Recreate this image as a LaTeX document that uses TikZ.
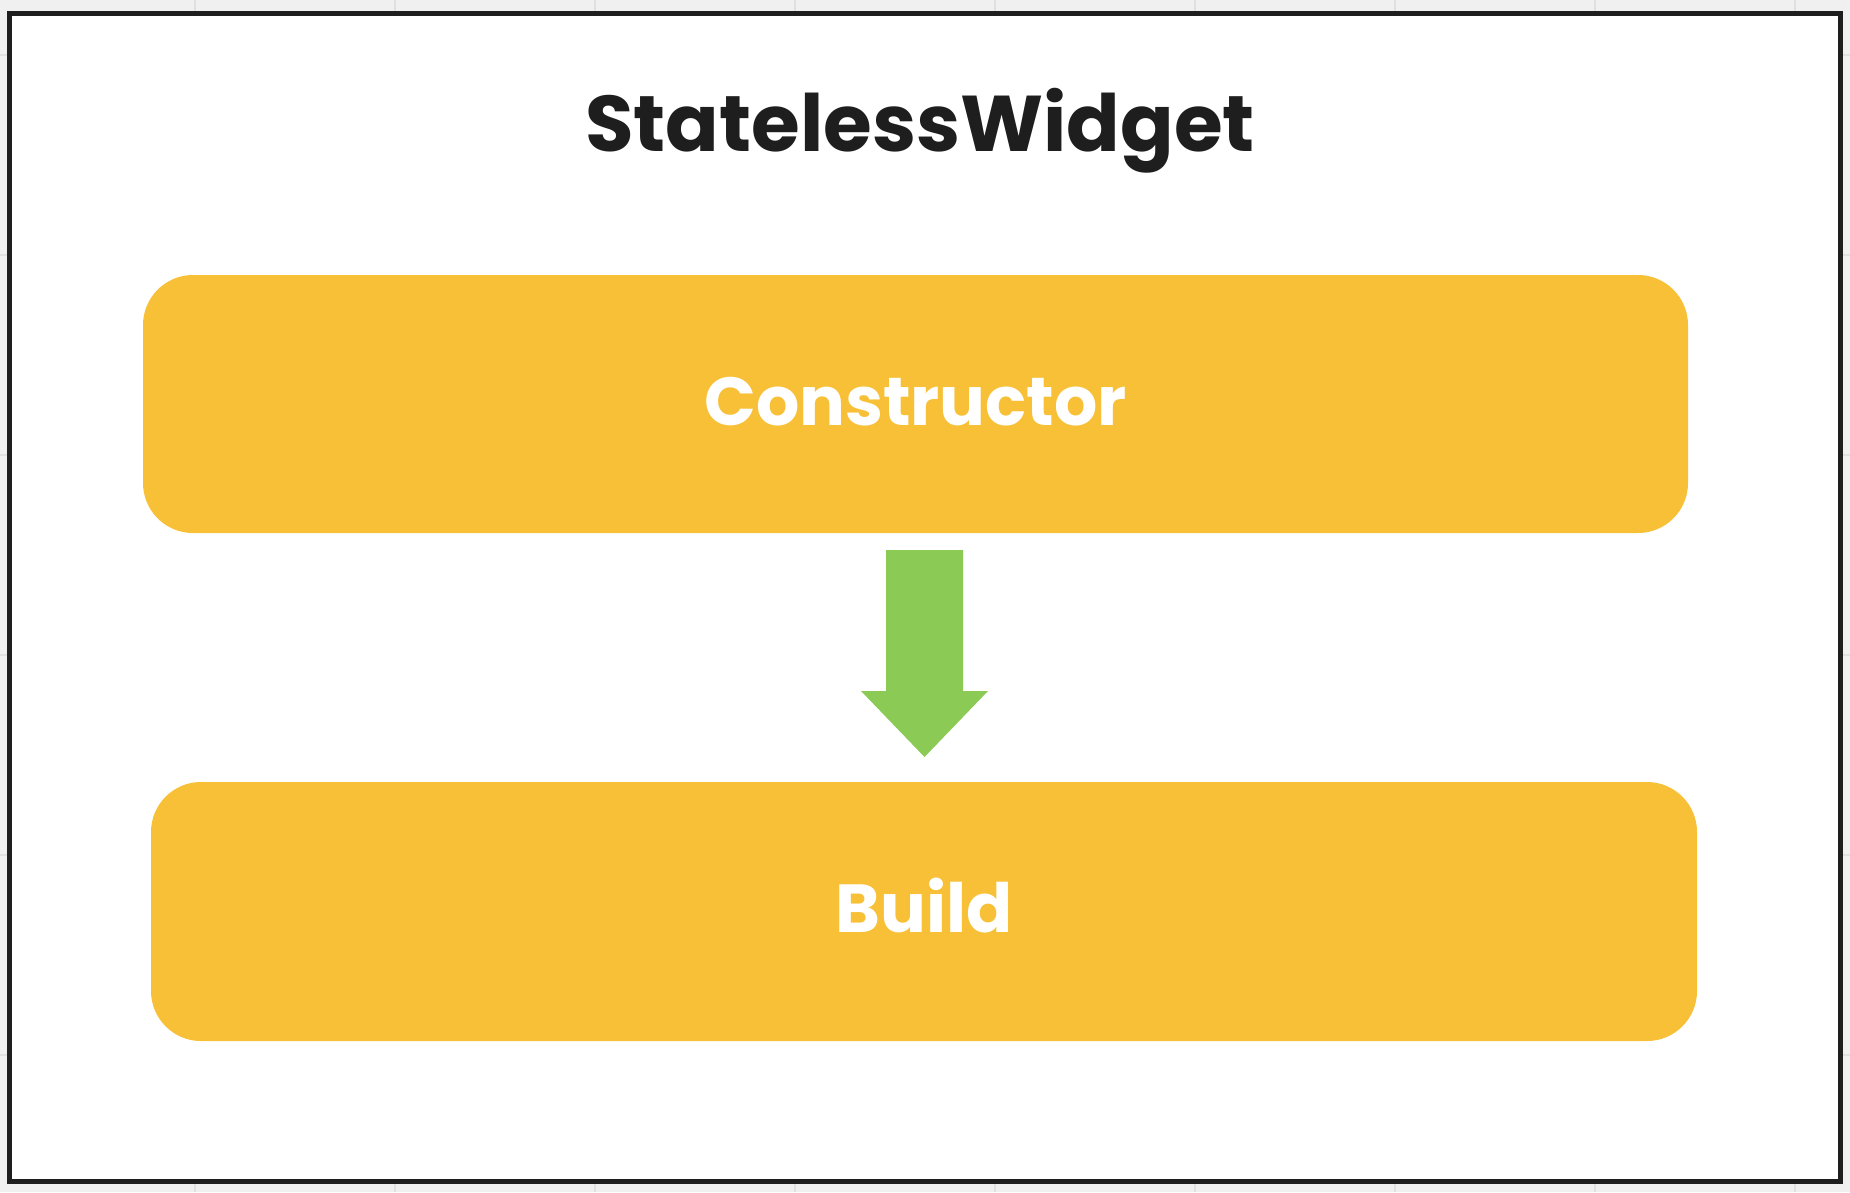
\documentclass[tikz,border=0pt]{standalone}
\usepackage{fontspec}
\setmainfont{Poppins}[BoldFont={Poppins Bold}]
\definecolor{canvas}{HTML}{F0F0F0}
\definecolor{gridc}{HTML}{E0E0E0}
\definecolor{frame}{HTML}{1E1E1E}
\definecolor{boxy}{HTML}{F7C036}
\definecolor{arrowg}{HTML}{8BCB55}
\tikzset{
  card/.style={fill=boxy, draw=none, rounded corners=50pt, inner sep=0pt},
  cardtext/.style={text=white, font=\bfseries\fontsize{68}{68}\selectfont},
}
\begin{document}
\begin{tikzpicture}[x=1pt,y=-1pt]
\useasboundingbox (0,0) rectangle (1850,1192);
\fill[canvas] (0,0) rectangle (1850,1192);
\foreach \gx in {195,395,...,1795} \draw[gridc, line width=2pt] (\gx,0) -- (\gx,1192);
\foreach \gy in {55,255,...,1055} \draw[gridc, line width=2pt] (0,\gy) -- (1850,\gy);
\draw[fill=white, draw=frame, line width=5pt] (9,13) rectangle (1840,1181);
\node[text=frame, font=\bfseries\fontsize{79}{79}\selectfont, anchor=base] (title) at (920,151) {StatelessWidget};
\node[card, minimum width=1545pt, minimum height=258pt] (ctor) at (915.5,404) {};
\node[cardtext, anchor=base] (ctorlabel) at (ctor.center |- 0,425) {Constructor};
\node[card, minimum width=1546pt, minimum height=259pt] (build) at (924,911.5) {};
\node[cardtext, anchor=base] (buildlabel) at (build.center |- 0,932) {Build};
\coordinate (atop) at (924.5,550);
\coordinate (atip) at (924.5,757);
\fill[arrowg] (886,550) -- (963,550) -- (963,691) -- (988,691) -- (atip) -- (861,691) -- (886,691) -- cycle;
\end{tikzpicture}
\end{document}
